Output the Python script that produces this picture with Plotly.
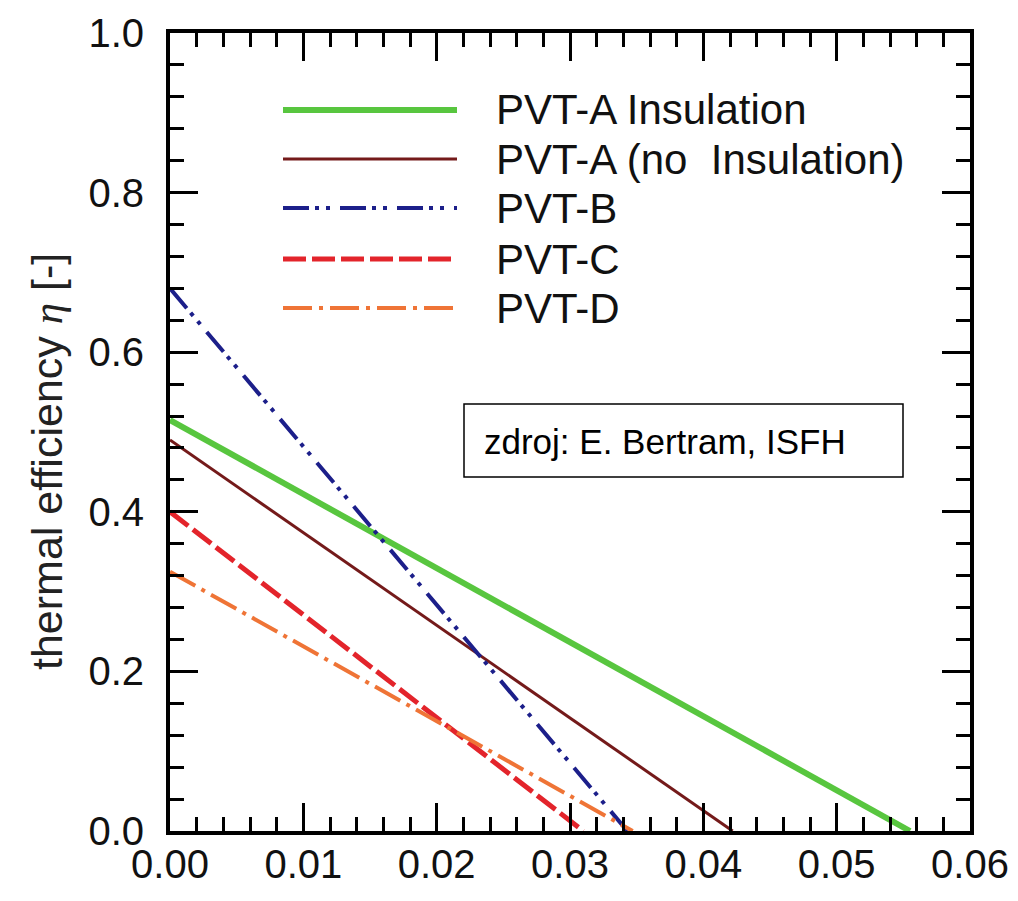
import plotly.graph_objects as go

# ---- data ----
series_names = ["PVT-A Insulation", "PVT-A (no  Insulation)", "PVT-B", "PVT-C", "PVT-D"]
eta_at_zero = [0.515, 0.490, 0.680, 0.400, 0.325]      # efficiency at x = 0
x_at_zero_eta = [0.0555, 0.0422, 0.0343, 0.0310, 0.0347]  # x where efficiency reaches 0

x_tick_vals = [0.00, 0.01, 0.02, 0.03, 0.04, 0.05, 0.06]
x_tick_text = ["0.00", "0.01", "0.02", "0.03", "0.04", "0.05", "0.06"]
y_tick_vals = [0.0, 0.2, 0.4, 0.6, 0.8, 1.0]
y_tick_text = ["0.0", "0.2", "0.4", "0.6", "0.8", "1.0"]

# ---- styles ----
colors = ["#58c63f", "#741a1a", "#1c1f8a", "#e3242b", "#ef7436"]
widths = [6, 3, 4, 5, 4]
dashes = ["solid", "solid", "26px,6px,4px,7px,4px,10px", "23px,6px", "29px,7px,4px,7px"]

# page body has an 8px margin; size the figure so the plot lands where the reference has it
OFF = 8
W, H = 1018 - OFF, 901 - OFF
PLOT_L, PLOT_R, PLOT_T, PLOT_B = 170, 970, 33, 831   # screen pixels of the plot frame
L, T = PLOT_L - OFF, PLOT_T - OFF
R, B = W - (PLOT_R - OFF), H - (PLOT_B - OFF)
PW, PH = PLOT_R - PLOT_L, PLOT_B - PLOT_T


def px(xs):
    return (xs - PLOT_L) / PW


def py(ys):
    return (PLOT_B - ys) / PH


fig = go.Figure()
for name, e0, xz, c, w, d in zip(series_names, eta_at_zero, x_at_zero_eta, colors, widths, dashes):
    fig.add_trace(go.Scatter(
        x=[0.0, xz], y=[e0, 0.0], mode="lines", name=name,
        line=dict(color=c, width=w, dash=d), showlegend=False,
    ))

font_main = "Liberation Sans, Arial, sans-serif"

# ---- manual legend ----
row_y = [110, 159, 208, 259, 308]
shapes = []
annotations = []
for name, c, w, d, yy in zip(series_names, colors, widths, dashes, row_y):
    shapes.append(dict(type="line", xref="paper", yref="paper",
                       x0=px(283), x1=px(457), y0=py(yy), y1=py(yy),
                       line=dict(color=c, width=w, dash=d)))
    annotations.append(dict(xref="paper", yref="paper", x=px(494), y=py(yy),
                            text=name.replace("  ", "\u00a0 "), showarrow=False,
                            xanchor="left", yanchor="middle",
                            font=dict(family=font_main, size=42, color="#111")))

# source box
shapes.append(dict(type="rect", xref="paper", yref="paper",
                   x0=px(464), x1=px(903), y0=py(477), y1=py(404),
                   line=dict(color="black", width=1.5), fillcolor="white", layer="below"))
annotations.append(dict(xref="paper", yref="paper", x=px(482), y=py(441),
                        text="zdroj: E. Bertram, ISFH", showarrow=False,
                        xanchor="left", yanchor="middle",
                        font=dict(family=font_main, size=35, color="black")))

# y axis title
annotations.append(dict(xref="paper", yref="paper", x=px(47), y=py(462),
                        text="thermal efficiency <span style=\"font-family:'Liberation Serif';font-style:italic\">η</span> [-]",
                        textangle=-90, showarrow=False, xanchor="center", yanchor="middle",
                        font=dict(family=font_main, size=43, color="#222")))

axis_common = dict(
    showline=True, linewidth=4, linecolor="black", mirror="allticks",
    ticks="inside", ticklen=28, tickwidth=3, tickcolor="black",
    showgrid=False, zeroline=False, automargin=False,
    tickfont=dict(family=font_main, size=40, color="#111"),
)

fig.update_xaxes(range=[0, 0.06], tickvals=x_tick_vals, ticktext=x_tick_text,
                 minor=dict(dtick=0.002, ticks="inside", ticklen=14, tickwidth=3, tickcolor="black", showgrid=False),
                 ticklabelstandoff=-5, **axis_common)
fig.update_yaxes(range=[0, 1.0], tickvals=y_tick_vals, ticktext=y_tick_text,
                 minor=dict(dtick=0.04, ticks="inside", ticklen=14, tickwidth=3, tickcolor="black", showgrid=False),
                 ticklabelstandoff=14, **axis_common)

fig.update_layout(
    width=W, height=H,
    margin=dict(l=L, r=R, t=T, b=B, pad=0),
    paper_bgcolor="white", plot_bgcolor="white",
    shapes=shapes, annotations=annotations,
    showlegend=False,
)

fig.write_html("out.html")
